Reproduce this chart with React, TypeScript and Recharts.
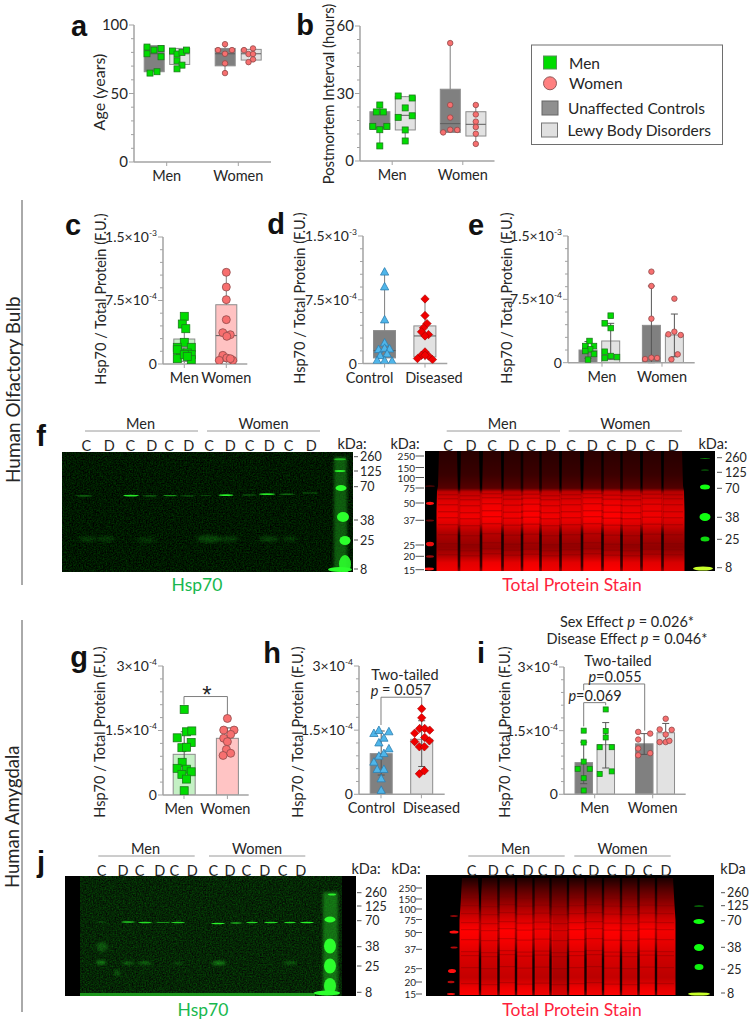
import React from 'react';
import { ComposedChart, Bar, Scatter, XAxis, YAxis, ReferenceLine } from 'recharts';

const FONT = 'Lato, "Open Sans", sans-serif';
const INK = '#262626';
const AXIS = '#a3a3a3';
const GREEN = '#00dc00';
const PINK = '#f76f6f';
const SKY = '#4fb6ea';
const RED = '#f00000';
const DARK = '#808080';
const LIGHT = '#e2e2e2';

// ---- panel a: age (years)
const aTicks = [0, 10, 20, 30, 40, 50, 60, 70, 80, 90, 100];
const aMenCtrl = [83.9, 81.7, 82.9, 79, 76.8, 64.9, 65.9];
const aMenCtrlX = [-7, 0, 7, -7, 7, -4, 3];
const aMenLbd = [81, 78.8, 80, 81.7, 73.9, 70.7, 68];
const aMenLbdX = [-7, -2.5, 2.5, 7, -2.5, 2.5, -2.5];
const aWomenCtrl = [86, 81.7, 79, 81.7, 72, 64.9];
const aWomenCtrlX = [0, -7, 0, 7, 0, 0];
const aWomenLbd = [81.7, 82.9, 78.8, 78.8, 74.9, 72.9];
const aWomenLbdX = [-7, 2, -2.5, 2, 2, -2.5];

// ---- panel b: postmortem interval (hours)
const bTicks = [0, 6, 12, 18, 24, 30, 36, 42, 48, 54, 60];
const bMenCtrl = [24.9, 21.8, 21.8, 15.4, 15.4, 13.9, 6.7];
const bMenCtrlX = [0, -3.5, 3.5, -7, 7, 0, 0];
const bMenLbd = [28.9, 28, 23.6, 19.4, 20.1, 13.8, 8.9];
const bMenLbdX = [-7, 7, 0, -7, 7, 0, 0];
const bWomenCtrl = [52.4, 24.9, 19.3, 12.7, 13.9, 13.8];
const bWomenCtrlX = [0, 0, 0, -7, 0, 7];
const bWomenLbd = [24.9, 20.7, 17.5, 15.1, 12.1, 7.6];
const bWomenLbdX = [0, 0, 0, 0, 0, 0];

// ---- panels c, d, e: olfactory bulb, values in units of 1e-4 F.U.
const bulbTicks = [0, 1.5, 3, 4.5, 6, 7.5, 9, 10.5, 12, 13.5, 15];
const cMen = [5.63, 4.72, 4.17, 2.56, 1.97, 1.97, 1.3, 1.3, 1.69, 1.1, 0.63, 0.51, 1.1, 0.9];
const cMenX = [0, -2, 1.5, 0, -7, 7, -4, 3, -7, 7, -7, 7, 0, 3];
const cWomen = [10.83, 9.09, 7.6, 5.24, 3.7, 3.46, 3.27, 1.02, 0.43, 0.71, 0.43, 0.63];
const cWomenX = [0, 0, 0, 0, -3.5, 4, 0.5, -3.5, -7, 0.5, 6.5, 4];
const dControl = [10.8, 9.06, 5.18, 2.47, 1.69, 1.84, 1.76, 0.98, 1.18, 0.39, 0.39, 0.31];
const dControlX = [0, 0, 0, 0, -6, 0, 5, -4.5, 2.5, -7.5, 0, 7.5];
const dDiseased = [7.6, 5.65, 4.7, 4.2, 3.73, 3.41, 3.25, 1.37, 0.98, 0.59, 0.9, 0.47, 0.98];
const dDiseasedX = [0, 0, 2, -1.5, -3.5, 3.5, 0, 0, -3.5, -7.5, 3.5, 7.5, 0];
const eMenCtrl = [2.57, 1.97, 1.97, 1.58, 1.38, 1.03, 0.36];
const eMenCtrlX = [1.5, -2.7, 6, 2.2, -2.7, 6, 0];
const eMenLbd = [5.57, 4.66, 4.1, 1.3, 0.79, 0.55, 0.67];
const eMenLbdX = [0, -6, 0, -6, 0, -6, 6.3];
const eWomenCtrl = [10.78, 9.08, 5.21, 0.43, 0.59, 0.55];
const eWomenCtrlX = [0, 0, 0, -6.3, 0, 5.7];
const eWomenLbd = [7.58, 3.36, 3.67, 3.28, 0.99, 0.39];
const eWomenLbdX = [0, -6, 0, 6.3, 3.3, -3];

// ---- panels g, h, i: amygdala, values in units of 1e-4 F.U.
const amyTicks = [0, 0.3, 0.6, 0.9, 1.2, 1.5, 1.8, 2.1, 2.4, 2.7, 3];
const gMen = [1.99, 1.47, 1.49, 1.33, 1.22, 1.1, 1.11, 0.76, 0.62, 0.6, 0.54, 0.48, 0.37, 0.1];
const gMenX = [0, 2.3, 7.6, -7, 7, -2.3, 2.3, -2, -7, 2.3, 7, -2.3, 2.3, 0];
const gWomen = [1.78, 1.51, 1.51, 1.41, 1.32, 1.24, 1.06, 0.97, 0.92];
const gWomenX = [0, -3.7, 6.7, 3.3, -3.7, 0, -1, 3.3, -4.3];
const hControl = [0.1, 0.37, 0.59, 0.59, 0.76, 0.9, 0.96, 1.07, 1.21, 1.32, 1.43, 1.5, 1.47];
const hControlX = [0, 0, -4, 2.7, -7.3, -2.3, 2.7, 7.7, -2.3, 2.7, -7.3, -2.3, 7.7];
const hDiseased = [2, 1.79, 1.43, 1.54, 1.54, 1.5, 1.33, 1.23, 1.25, 1.11, 1.11, 0.48, 0.55];
const hDiseasedX = [0, 0, -7, -2, 3, 8, 3, -7, 7.7, -2.3, 2.7, -2.3, 2.7];
const iMenCtrl = [1.5, 1.22, 0.77, 0.6, 0.6, 0.38, 0.09];
const iMenCtrlX = [0, 0, 0, -6, 6, 0, 0];
const iMenLbd = [2, 1.49, 1.34, 1.11, 1.11, 0.54, 0.48];
const iMenLbdX = [0, 0, 0, -6, 6, 6, -6];
const iWomenCtrl = [1.47, 1.43, 1.29, 1.08, 0.92, 0.97];
const iWomenCtrlX = [-6, 6, -6, -6, -6, 6];
const iWomenLbd = [1.78, 1.53, 1.52, 1.41, 1.23, 1.23, 1.26];
const iWomenLbdX = [0, -6, 6, 0, -6, 0, 3.7];

const sexes = ['Men', 'Women'];
const diagnoses = ['Control', 'Diseased'];

// ---- blot labels
const laneLetters = ['C', 'D', 'C', 'D', 'C', 'D', 'C', 'D', 'C', 'D', 'C', 'D'];
const ladderGreen = ['260', '125', '70', '38', '25', '8'];
const ladderRed = ['250', '150', '100', '75', '50', '37', '25', '20', '15'];

type Group = {
  x: number; width: number; fill: string; stroke?: string;
  range: [number, number]; median?: number;
  whisker?: [number, number]; errorBar?: [number, number];
  values: number[]; jitter: number[];
  mark: 'square' | 'circle' | 'triangle' | 'diamond'; markSize: number; markFill: string; markStroke: string;
};

const Mark = ({ cx, cy, kind, size, fill, stroke }: any) => {
  const s = size / 2;
  if (kind === 'circle') return <circle cx={cx} cy={cy} r={s} fill={fill} stroke={stroke} strokeWidth={0.8} />;
  if (kind === 'square') return <rect x={cx - s} y={cy - s} width={size} height={size} fill={fill} stroke={stroke} strokeWidth={0.8} />;
  if (kind === 'triangle') return <path d={`M${cx} ${cy - s * 1.1}L${cx + s * 1.1} ${cy + s * 0.9}L${cx - s * 1.1} ${cy + s * 0.9}Z`} fill={fill} stroke={stroke} strokeWidth={0.8} />;
  return <path d={`M${cx} ${cy - s * 1.2}L${cx + s * 1.2} ${cy}L${cx} ${cy + s * 1.2}L${cx - s * 1.2} ${cy}Z`} fill={fill} stroke={stroke} strokeWidth={0.6} />;
};

const YTick = ({ x, y, payload, labels, size }: any) => {
  const lab = labels[payload.value];
  return (
    <g>
      <line x1={x - (lab ? 5 : 3)} x2={x} y1={y} y2={y} stroke={AXIS} strokeWidth={1} />
      {lab && (
        <text x={x - 6} y={y} dy={5} textAnchor="end" fontSize={size} fontFamily={FONT} fill={INK}>
          {lab[0]}
          {lab[1] && <tspan dy={-6} fontSize={8.5}>{lab[1]}</tspan>}
        </text>
      )}
    </g>
  );
};

const XTick = ({ x, y, payload, index, names, nudges }: any) => (
  <g>
    <line x1={x} x2={x} y1={y} y2={y + 4} stroke={AXIS} strokeWidth={1} />
    <text x={payload.coordinate + (nudges?.[index] ?? 0)} y={y + 19} textAnchor="middle" fontSize={14.5} fontFamily={FONT} fill={INK}>
      {names[index]}
    </text>
  </g>
);

// the axis is numeric so recharts squeezes the band; draw the box at the group's own width
const GroupBar = (p: any) => {
  const g = p.payload.group as Group;
  const cx = p.x + p.width / 2;
  return <rect x={cx - g.width / 2} y={p.y} width={g.width} height={Math.abs(p.height)} fill={g.fill} stroke="#8c8c8c" strokeWidth={1} />;
};

const TOP_PAD = 14;

const Panel = ({ axisX, rightX, topY, zeroY, yMax, ticks, labels, tickX, names, nudges, groups, brackets, tickFont = 14 }: any) => {
  const left = axisX - 60;
  const top = topY - TOP_PAD;
  const rows = groups.map((g: Group) => ({ x: g.x, range: g.range, group: g }));
  const seg = (x1: number, y1: number, x2: number, y2: number, key: string, color = '#7d7d7d') => (
    <ReferenceLine key={key} segment={[{ x: x1, y: y1 }, { x: x2, y: y2 }]} stroke={color} strokeWidth={1} ifOverflow="visible" />
  );
  return (
    <div style={{ position: 'absolute', left, top }}>
      <ComposedChart
        width={rightX - axisX + 60 + 30}
        height={zeroY - topY + TOP_PAD + 30}
        data={rows}
        margin={{ top: TOP_PAD, right: 30, bottom: 0, left: 0 }}
      >
        <XAxis
          type="number" dataKey="x" domain={[axisX, rightX]} ticks={tickX} interval={0} allowDataOverflow
          height={30} tickSize={0} tickMargin={0} tickLine={false}
          axisLine={{ stroke: AXIS, strokeWidth: 1.5 }}
          tick={(p: any) => <XTick {...p} names={names} nudges={nudges} />}
        />
        <YAxis
          type="number" domain={[0, yMax]} ticks={ticks} interval={0} allowDataOverflow
          width={60} tickSize={0} tickMargin={0} tickLine={false}
          axisLine={{ stroke: AXIS, strokeWidth: 1.5 }}
          tick={(p: any) => <YTick {...p} labels={labels} size={tickFont} />}
        />
        <Bar dataKey="range" isAnimationActive={false} shape={GroupBar} />
        {groups.flatMap((g: Group, i: number) => {
          const out: any[] = [];
          const half = g.width / 2;
          if (g.whisker) {
            out.push(seg(g.x, g.range[1], g.x, g.whisker[1], `wt${i}`));
            out.push(seg(g.x, g.whisker[0], g.x, g.range[0], `wb${i}`));
          }
          if (g.median !== undefined) out.push(seg(g.x - half, g.median, g.x + half, g.median, `m${i}`, '#5c5c5c'));
          if (g.errorBar) {
            const [lo, hi] = g.errorBar;
            out.push(seg(g.x, lo, g.x, hi, `e${i}`, '#555'));
            out.push(seg(g.x - 3.5, hi, g.x + 3.5, hi, `eh${i}`, '#555'));
            out.push(seg(g.x - 3.5, lo, g.x + 3.5, lo, `el${i}`, '#555'));
          }
          return out;
        })}
        {(brackets ?? []).flatMap((b: any, i: number) => [
          seg(b.x1, b.y1, b.x1, b.top, `bl${i}`),
          seg(b.x1, b.top, b.x2, b.top, `bt${i}`),
          seg(b.x2, b.top, b.x2, b.y2, `br${i}`),
        ])}
        {groups.map((g: Group, i: number) => (
          <Scatter
            key={i}
            dataKey="v"
            data={g.values.map((v, j) => ({ x: g.x + g.jitter[j], v }))}
            isAnimationActive={false}
            shape={(p: any) => <Mark cx={p.cx} cy={p.cy} kind={g.mark} size={g.markSize} fill={g.markFill} stroke={g.markStroke} />}
          />
        ))}
      </ComposedChart>
    </div>
  );
};

const men = (size: number) => ({ mark: 'square' as const, markSize: size, markFill: GREEN, markStroke: '#1c7a1c' });
const women = (size: number) => ({ mark: 'circle' as const, markSize: size, markFill: PINK, markStroke: '#8f4a4a' });
const control = { mark: 'triangle' as const, markSize: 7.5, markFill: SKY, markStroke: '#2f7fb0' };
const diseased = { mark: 'diamond' as const, markSize: 7, markFill: RED, markStroke: '#a00000' };

const ageLabels = { 0: ['0'], 50: ['50'], 100: ['100'] };
const pmiLabels = { 0: ['0'], 30: ['30'], 60: ['60'] };
const bulbLabels = { 0: ['0'], 7.5: ['7.5×10', '-4'], 15: ['1.5×10', '-3'] };
const amyLabels = { 0: ['0'], 1.5: ['1.5×10', '-4'], 3: ['3×10', '-4'] };

// ---- annotation text
const T = ({ x, y, s = 14.5, a = 'middle', c = INK, r, w, f, children }: any) => (
  <text
    x={x} y={y} fontSize={s} textAnchor={a} fill={c} fontWeight={w} dominantBaseline="central"
    fontFamily={f ?? FONT} transform={r ? `rotate(${r} ${x} ${y})` : undefined}
  >
    {children}
  </text>
);
const P = () => <tspan fontStyle="italic">p</tspan>;
const PanelLetter = ({ x, y, children }: any) => (
  <T x={x} y={y} s={29} w="bold" f='"Liberation Sans", Arial, sans-serif' c="#111">{children}</T>
);

const BlotHead = ({ menX, womenX, y, xs }: any) => (
  <g>
    <T x={(menX[0] + menX[1]) / 2 - 1} y={y}>Men</T>
    <T x={(womenX[0] + womenX[1]) / 2} y={y + 0.5}>Women</T>
    <line x1={menX[0]} x2={menX[1]} y1={y + 8} y2={y + 8} stroke="#9a9a9a" />
    <line x1={womenX[0]} x2={womenX[1]} y1={y + 8} y2={y + 8} stroke="#9a9a9a" />
    {laneLetters.map((l, i) => <T key={i} x={xs[i]} y={y + 22} s={14.5}>{l}</T>)}
  </g>
);

const Ladder = ({ names, ys, tick, textX, a, s = 12.5 }: any) => (
  <g>
    {names.map((n: string, i: number) => (
      <g key={n}>
        <line x1={tick[0]} x2={tick[1]} y1={ys[i]} y2={ys[i]} stroke="#555" />
        <T x={textX} y={ys[i]} s={s} a={a}>{n}</T>
      </g>
    ))}
  </g>
);

// ---- blot drawings, coordinates relative to each blot
const Blot = ({ x, y, w, h, id, tint, children }: any) => (
  <svg width={w} height={h} style={{ position: 'absolute', left: x, top: y, display: 'block' }}>
    <defs>
      <filter id={`${id}b1`} colorInterpolationFilters="sRGB"><feGaussianBlur stdDeviation="0.7" /></filter>
      <filter id={`${id}b2`} colorInterpolationFilters="sRGB"><feGaussianBlur stdDeviation="1.8" /></filter>
      <filter id={`${id}n`} x="0" y="0" width="100%" height="100%" colorInterpolationFilters="sRGB">
        <feTurbulence type="fractalNoise" baseFrequency="0.7" numOctaves="2" seed="4" />
        <feColorMatrix type="matrix" values={tint} />
      </filter>
    </defs>
    <rect width={w} height={h} fill="#000" />
    {children}
  </svg>
);

const GREEN_NOISE = '0 0 0 0 0  0.35 0 0 0 -0.08  0 0 0 0 0  0 0 0 0 1';
const GREEN_NOISE_J = '0 0 0 0 0.02  0.4 0 0 0 -0.05  0 0 0 0 0.02  0 0 0 0 1';

const Spots = ({ list, filter, color = '#2cff2c' }: any) => (
  <g filter={filter}>
    {list.map((b: number[], i: number) => (
      <ellipse key={i} cx={b[0]} cy={b[1]} rx={b[2]} ry={b[3]} fill={b[5] ? '#c8ff2a' : color} opacity={b[4]} />
    ))}
  </g>
);

const fHspBands = [
  [22, 43.8, 9, 0.6, 0.4], [69, 43.6, 8, 0.9, 0.9], [88, 43.8, 8, 0.6, 0.4], [108, 43.6, 7, 0.7, 0.55],
  [126, 43.8, 8, 0.6, 0.3], [144, 43.6, 6, 0.5, 0.22], [164, 43.2, 7.5, 0.9, 0.95], [187, 43, 7, 0.6, 0.35],
  [205, 42.2, 8, 0.9, 0.9], [225, 42.2, 8, 0.6, 0.45], [248, 41, 8, 0.6, 0.3],
];
const fHspFaint = [
  [26, 87, 9, 3, 0.12], [44, 87, 9, 3, 0.12], [85, 88, 10, 3, 0.1], [147, 87, 12, 4, 0.18],
  [167, 87, 10, 3, 0.13], [207, 87, 10, 3, 0.15], [228, 87, 8, 3, 0.1],
];
const fHspLadder = [
  [278, 7.3, 6, 1, 0.6], [278, 19, 5.5, 1, 0.9], [279, 36, 5.5, 3, 1], [281, 65, 6, 5, 1],
  [283, 88.5, 5.5, 4.5, 1], [283, 112, 6, 9, 0.9], [278, 117.5, 12, 2.5, 1],
];
const jHspBands = [
  [36, 46, 6, 0.5, 0.3], [63, 46, 7, 0.7, 0.8], [80, 46.5, 7, 0.7, 0.85], [98, 46.5, 7, 0.6, 0.5],
  [113, 46.5, 7, 0.7, 0.8], [153, 47.5, 7, 0.7, 0.95], [171, 47, 6, 0.7, 0.65], [187, 46.5, 6, 0.7, 0.85],
  [206, 46.5, 7, 0.7, 0.85], [225, 46.5, 6, 0.7, 0.85], [242, 46.5, 7, 0.7, 0.95],
];
const jHspFaint = [
  [36, 86.5, 5, 2, 0.4], [63, 87, 6, 1.2, 0.4], [80, 87, 7, 1.2, 0.4], [113, 87, 6, 1.2, 0.22],
  [154, 87, 7, 2, 0.4], [225, 87, 7, 1.5, 0.28], [37, 71, 6, 5, 0.2], [52, 97, 3, 3, 0.22],
];
const jHspLadder = [
  [267, 18.5, 4, 1, 0.9], [265, 43.5, 5.5, 3, 1], [265, 70, 6, 7.5, 1], [265, 90, 6, 7.5, 1],
  [265, 110, 6, 8, 0.95], [262, 117, 13, 2.5, 1],
];

const Lane = ({ cx, profile, fill, opacity }: any) => {
  const right = profile.map((p: number[]) => `${cx + p[1]},${p[0]}`);
  const leftSide = [...profile].reverse().map((p: number[]) => `${cx - p[1]},${p[0]}`);
  return <polygon points={[...right, ...leftSide].join(' ')} fill={fill} opacity={opacity} />;
};

const Gaps = ({ lanes, fill, w }: any) => (
  <g>
    {lanes.slice(1).map((x: number, i: number) => (
      <rect key={i} x={(x + lanes[i]) / 2 - w / 2} y={0} width={w} height={121} fill={fill} />
    ))}
  </g>
);

const fLaneX = [23, 45, 67, 88, 106, 125, 146, 168, 187, 206, 227, 248];
const fLaneLevel = [0.95, 0.95, 1, 0.95, 1, 0.95, 0.95, 1, 1, 0.95, 0.95, 0.9];
const fProfile = [[0, 9], [35, 10], [40, 11], [60, 11.5], [120, 11.5]];
const fStripes = [43, 47, 53, 60, 66, 73, 83, 92, 98, 103];
const fRedLadder = [[5, 35, 5, 0.5, 0.5], [5, 52.3, 4, 1.6, 1], [5, 69.5, 4, 1, 0.4], [5, 93, 4, 2.3, 0.9], [5, 105.5, 4, 1.2, 0.6], [4, 118, 5, 1.4, 1]];
const fRedGreen = [[280, 7.5, 5, 0.4, 0.5], [280, 19, 4, 0.5, 0.5], [280, 36, 5, 2.5, 1], [280, 66, 5.5, 4, 1], [280, 88, 4.5, 2.5, 0.85], [278, 117.5, 10, 2, 1, 1]];

const jLaneX = [44, 64, 81, 99, 116, 133, 151, 168, 186, 204, 221, 239];
const jLaneLevel = [1, 0.95, 1, 1, 0.95, 0.85, 1, 0.95, 1, 0.95, 1, 0.95];
const jProfile = [[3, 8], [30, 9.5], [45, 10.5], [120, 10.5]];
const jStripes = [22, 30, 38, 47, 54, 64, 76, 80, 92, 108];
const jRedLadder = [[28, 41, 4, 0.7, 0.7], [28, 57, 4.5, 1.5, 1], [28, 72.5, 3.5, 1, 0.7], [26, 96, 4, 2, 1], [25, 107, 3.5, 1.2, 0.7], [25, 119, 4, 1, 1]];
const jRedGreen = [[273, 31, 5, 0.5, 0.7], [273, 46.5, 5.5, 2.5, 1], [273, 72.5, 5, 3.5, 1], [273, 92, 4.5, 3, 0.95], [273, 119, 11, 1.6, 1, 1]];

// small per-lane shift so the protein bands do not line up into ruled stripes
const laneShift = [0, 1, -1, 0.5, -0.5, 1, 0, -1, 0.5, 1, -0.5, 0];

const RedStops = ({ id, stops }: any) => (
  <linearGradient id={id} x1="0" y1="0" x2="0" y2="1">
    {stops.map((s: any, i: number) => <stop key={i} offset={s[0]} stopColor={s[1]} />)}
  </linearGradient>
);
const GapStops = ({ id, stops }: any) => (
  <linearGradient id={id} x1="0" y1="0" x2="0" y2="1">
    {stops.map((s: any, i: number) => <stop key={i} offset={s[0]} stopColor="#000" stopOpacity={s[1]} />)}
  </linearGradient>
);

const fStops = [[0, '#2a0000'], [0.2, '#3c0000'], [0.31, '#5a0000'], [0.34, '#c80000'], [0.43, '#ee0000'], [0.55, '#ff0000'], [0.62, '#e40000'], [0.68, '#bb0000'], [0.8, '#990000'], [0.88, '#c00000'], [0.93, '#ee0000'], [1, '#ff0000']];
const fGapStops = [[0, 0.8], [0.3, 0.7], [0.36, 0.1], [0.6, 0.2], [0.7, 0.85], [0.95, 0.75], [1, 0.4]];
const jStops = [[0, '#1c0000'], [0.1, '#5a0000'], [0.25, '#aa0000'], [0.36, '#dd0000'], [0.45, '#ff0000'], [0.55, '#f20000'], [0.65, '#dc0000'], [0.85, '#c40000'], [0.94, '#ee0000'], [1, '#ff0000']];
const jGapStops = [[0, 0.85], [0.25, 0.6], [0.4, 0.25], [0.55, 0.45], [0.7, 0.9], [0.95, 0.85], [1, 0.5]];

const App = () => (
  <div style={{ position: 'absolute', left: 0, top: 0, width: 749, height: 1021, overflow: 'hidden', background: '#fff' }}>
    {/* blots */}
    <Blot x={62} y={452} w={291} h={120} id="f1" tint={GREEN_NOISE}>
      <rect width={291} height={120} filter="url(#f1n)" />
      <rect x={272} y={5} width={13} height={112} fill="#1d9e1d" opacity={0.5} filter="url(#f1b2)" />
      <Spots list={fHspFaint} filter="url(#f1b2)" />
      <Spots list={fHspBands} filter="url(#f1b1)" />
      <Spots list={fHspLadder} filter="url(#f1b1)" />
    </Blot>
    <Blot x={425} y={451} w={290} h={120} id="f2" tint={GREEN_NOISE}>
      <defs><RedStops id="f2g" stops={fStops} /><GapStops id="f2d" stops={fGapStops} /></defs>
      <g filter="url(#f2b1)">
        {fLaneX.map((x, i) => <Lane key={i} cx={x} profile={fProfile} fill="url(#f2g)" opacity={fLaneLevel[i]} />)}
        {fLaneX.map((x, i) => fStripes.map((y) => <rect key={`${i}-${y}`} x={x - 10} y={y + laneShift[i]} width={20} height={1.4} fill="#7a0000" opacity={0.35} />))}
        <Gaps lanes={fLaneX} fill="url(#f2d)" w={2.6} />
      </g>
      <Spots list={fRedLadder} filter="url(#f2b1)" color="#ff1010" />
      <Spots list={fRedGreen} filter="url(#f2b1)" color="#10ff10" />
    </Blot>
    <Blot x={65} y={876} w={291} h={120} id="j1" tint={GREEN_NOISE_J}>
      <rect x={15} width={262} height={120} filter="url(#j1n)" />
      <rect x={258} y={16} width={15} height={103} fill="#22b022" opacity={0.55} filter="url(#j1b2)" />
      <rect x={15} y={117} width={235} height={3} fill="#1fa81f" opacity={0.85} filter="url(#j1b1)" />
      <Spots list={jHspFaint} filter="url(#j1b2)" />
      <Spots list={jHspBands} filter="url(#j1b1)" />
      <Spots list={jHspLadder} filter="url(#j1b1)" />
    </Blot>
    <Blot x={426} y={875} w={288} h={121} id="j2" tint={GREEN_NOISE}>
      <defs><RedStops id="j2g" stops={jStops} /><GapStops id="j2d" stops={jGapStops} /></defs>
      <g filter="url(#j2b1)">
        {jLaneX.map((x, i) => <Lane key={i} cx={x} profile={jProfile} fill="url(#j2g)" opacity={jLaneLevel[i]} />)}
        {jLaneX.map((x, i) => jStripes.map((y) => <rect key={`${i}-${y}`} x={x - 9} y={y + laneShift[i]} width={18} height={1.2} fill="#700000" opacity={0.3} />))}
        <Gaps lanes={jLaneX} fill="url(#j2d)" w={2.4} />
      </g>
      <Spots list={jRedLadder} filter="url(#j2b1)" color="#ff1010" />
      <Spots list={jRedGreen} filter="url(#j2b1)" color="#10ff10" />
    </Blot>

    {/* chart panels */}
    <Panel
      axisX={134} rightX={271} topY={25} zeroY={162} yMax={100} ticks={aTicks} labels={ageLabels} tickX={[166.7, 238.3]} names={sexes} tickFont={15}
      groups={[
        { x: 154, width: 20, fill: DARK, range: [65.9, 84.9], median: 79, values: aMenCtrl, jitter: aMenCtrlX, ...men(6) },
        { x: 179.5, width: 20, fill: LIGHT, range: [71.2, 82.9], median: 79, whisker: [68, 82.9], values: aMenLbd, jitter: aMenLbdX, ...men(6) },
        { x: 225, width: 20, fill: DARK, range: [70.2, 82.9], median: 79, whisker: [64.9, 86], values: aWomenCtrl, jitter: aWomenCtrlX, ...women(5.5) },
        { x: 251, width: 20, fill: LIGHT, range: [74.4, 82.2], median: 79, whisker: [72.9, 82.9], values: aWomenLbd, jitter: aWomenLbdX, ...women(5.5) },
      ]}
    />
    <Panel
      axisX={359.5} rightX={494} topY={26} zeroY={161} yMax={60} ticks={bTicks} labels={pmiLabels} tickX={[391.7, 462.3]} names={sexes} tickFont={15}
      groups={[
        { x: 379.3, width: 20, fill: DARK, range: [14.1, 21.9], median: 15, whisker: [6.7, 24.9], values: bMenCtrl, jitter: bMenCtrlX, ...men(6) },
        { x: 404.7, width: 20, fill: LIGHT, range: [13.8, 28.6], median: 20.3, whisker: [8.9, 28.9], values: bMenLbd, jitter: bMenLbdX, ...men(6) },
        { x: 449.7, width: 20, fill: DARK, range: [12.7, 31.9], median: 16.6, whisker: [12.7, 52.4], values: bWomenCtrl, jitter: bWomenCtrlX, ...women(5.5) },
        { x: 475.3, width: 20, fill: LIGHT, range: [11.1, 21.9], median: 16.3, whisker: [7.6, 24.9], values: bWomenLbd, jitter: bWomenLbdX, ...women(5.5) },
      ]}
    />
    <Panel
      axisX={162.7} rightX={247} topY={237.3} zeroY={364.3} yMax={15} ticks={bulbTicks} labels={bulbLabels} tickX={[184, 226]} names={sexes}
      groups={[
        { x: 184, width: 21, fill: '#c4efc4', range: [0.3, 2.95], median: 1.9, whisker: [0.1, 5.63], values: cMen, jitter: cMenX, ...men(8) },
        { x: 226, width: 21, fill: '#ffc2c2', range: [0.3, 7], median: 3.35, whisker: [0.1, 10.83], values: cWomen, jitter: cWomenX, ...women(8) },
      ]}
    />
    <Panel
      axisX={362.7} rightX={447} topY={235.7} zeroY={363.3} yMax={15} ticks={bulbTicks} labels={bulbLabels} tickX={[384.3, 424.7]} names={diagnoses} nudges={[-15, 9]}
      groups={[
        { x: 384.3, width: 22, fill: DARK, range: [0.67, 3.88], median: 1.53, whisker: [0.1, 10.8], values: dControl, jitter: dControlX, ...control },
        { x: 424.7, width: 22, fill: LIGHT, range: [0.78, 4.43], median: 3.25, whisker: [0.4, 7.6], values: dDiseased, jitter: dDiseasedX, ...diseased },
      ]}
    />
    <Panel
      axisX={568.3} rightX={695} topY={236} zeroY={362.7} yMax={15} ticks={bulbTicks} labels={bulbLabels} tickX={[602.3, 662.3]} names={sexes}
      groups={[
        { x: 588.3, width: 18, fill: DARK, range: [0, 1.5], errorBar: [0.5, 2.5], values: eMenCtrl, jitter: eMenCtrlX, ...men(5.5) },
        { x: 611, width: 18, fill: LIGHT, range: [0, 2.57], errorBar: [0.4, 4.66], values: eMenLbd, jitter: eMenLbdX, ...men(5.5) },
        { x: 651.7, width: 18, fill: DARK, range: [0, 4.42], errorBar: [0, 9.08], values: eWomenCtrl, jitter: eWomenCtrlX, ...women(5.5) },
        { x: 674.7, width: 18, fill: LIGHT, range: [0, 3.28], errorBar: [0.7, 5.76], values: eWomenLbd, jitter: eWomenLbdX, ...women(5.5) },
      ]}
    />
    <Panel
      axisX={163.3} rightX={249} topY={666} zeroY={795} yMax={3} ticks={amyTicks} labels={amyLabels} tickX={[184.3, 227.7]} names={sexes} nudges={[-5, -2]}
      brackets={[{ x1: 184.3, x2: 227.7, top: 2.29, y1: 2.1, y2: 1.86 }]}
      groups={[
        { x: 184.5, width: 22, fill: '#c4f0c4', range: [0, 0.946], errorBar: [0.43, 1.47], values: gMen, jitter: gMenX, ...men(8) },
        { x: 227.7, width: 22, fill: '#ffc4c4', range: [0, 1.318], errorBar: [1.05, 1.56], values: gWomen, jitter: gWomenX, ...women(8) },
      ]}
    />
    <Panel
      axisX={359.3} rightX={445} topY={666} zeroY={794.3} yMax={3} ticks={amyTicks} labels={amyLabels} tickX={[381.3, 421.7]} names={diagnoses} nudges={[-9.5, 10]}
      brackets={[{ x1: 381.3, x2: 422, top: 2.27, y1: 1.62, y2: 2.09 }]}
      groups={[
        { x: 381.5, width: 22, fill: DARK, range: [0, 0.95], errorBar: [0.45, 1.48], values: hControl, jitter: hControlX, ...control },
        { x: 422, width: 22, fill: LIGHT, range: [0, 1.286], errorBar: [0.65, 1.72], values: hDiseased, jitter: hDiseasedX, ...diseased },
      ]}
    />
    <Panel
      axisX={564.3} rightX={686} topY={666.7} zeroY={794} yMax={3} ticks={amyTicks} labels={amyLabels} tickX={[595, 653]} names={sexes}
      brackets={[
        { x1: 584, x2: 606, top: 2.16, y1: 1.6, y2: 2.1 },
        { x1: 584, x2: 645, top: 2.6, y1: 2.45, y2: 1.5 },
      ]}
      groups={[
        { x: 584, width: 17.5, fill: DARK, range: [0, 0.746], errorBar: [0.25, 1.23], values: iMenCtrl, jitter: iMenCtrlX, ...men(5) },
        { x: 606, width: 17.5, fill: LIGHT, range: [0, 1.17], errorBar: [0.62, 1.69], values: iMenLbd, jitter: iMenLbdX, ...men(5) },
        { x: 644.5, width: 17.5, fill: DARK, range: [0, 1.19], errorBar: [0.94, 1.43], values: iWomenCtrl, jitter: iWomenCtrlX, ...women(5.5) },
        { x: 666, width: 17.5, fill: LIGHT, range: [0, 1.45], errorBar: [1.23, 1.67], values: iWomenLbd, jitter: iWomenLbdX, ...women(5.5) },
      ]}
    />

    {/* text, rules and legend */}
    <svg width={749} height={1021} style={{ position: 'absolute', left: 0, top: 0, pointerEvents: 'none' }}>
      <PanelLetter x={79} y={26}>a</PanelLetter>
      <PanelLetter x={305} y={25}>b</PanelLetter>
      <PanelLetter x={73} y={225}>c</PanelLetter>
      <PanelLetter x={276} y={224}>d</PanelLetter>
      <PanelLetter x={476} y={225}>e</PanelLetter>
      <PanelLetter x={41} y={436}>f</PanelLetter>
      <PanelLetter x={79} y={657}>g</PanelLetter>
      <PanelLetter x={272} y={653}>h</PanelLetter>
      <PanelLetter x={481} y={653}>i</PanelLetter>
      <PanelLetter x={41} y={862}>j</PanelLetter>

      <T x={98} y={92} r={-90} s={16}>Age (years)</T>
      <T x={328} y={94} r={-90} s={14.8}>Postmortem Interval (hours)</T>
      <T x={100} y={299} r={-90}>Hsp70 / Total Protein (F.U.)</T>
      <T x={299} y={298} r={-90}>Hsp70 / Total Protein (F.U.)</T>
      <T x={506} y={298} r={-90}>Hsp70 / Total Protein (F.U.)</T>
      <T x={99} y={732} r={-90}>Hsp70 / Total Protein (F.U.)</T>
      <T x={297} y={732} r={-90}>Hsp70 / Total Protein (F.U.)</T>
      <T x={504} y={732} r={-90}>Hsp70 / Total Protein (F.U.)</T>

      <T x={12} y={483} r={-90} s={19} a="start">Human Olfactory Bulb</T>
      <T x={12} y={888} r={-90} s={18.5} a="start">Human Amygdala</T>
      <line x1={22} x2={22} y1={200} y2={585} stroke="#555" />
      <line x1={22} x2={22} y1={620} y2={1012} stroke="#555" />

      <T x={207} y={694} s={24} f='"Liberation Sans", Arial, sans-serif'>*</T>
      <T x={405} y={674}>Two-tailed</T>
      <T x={401} y={689.5}><P /> = 0.057</T>
      <T x={627} y={621}>Sex Effect <P /> = 0.026*</T>
      <T x={627} y={638}>Disease Effect <P /> = 0.046*</T>
      <T x={618} y={660.5}>Two-tailed</T>
      <T x={615} y={676}><P />=0.055</T>
      <T x={595} y={695}><P />=0.069</T>

      <BlotHead menX={[85, 198]} womenX={[207, 320]} y={423} xs={[86.3, 109.3, 130.3, 151.7, 169, 188.7, 209, 230.3, 249.7, 269.3, 288.7, 311.3]} />
      <T x={352} y={443}>kDa:</T>
      <Ladder names={ladderGreen} ys={[456.7, 471, 486.7, 520, 540, 569]} tick={[354, 358]} textX={360} a="start" />
      <T x={197} y={584} s={17.5} c="#18b84e">Hsp70</T>

      <BlotHead menX={[446.7, 560]} womenX={[568.7, 682]} y={423} xs={[448, 471, 492, 513.7, 531, 550.7, 571, 592.3, 611.3, 631, 650.3, 673.3]} />
      <T x={405} y={443}>kDa:</T>
      <T x={713} y={443}>kDa:</T>
      <Ladder names={ladderRed} ys={[456, 467.5, 477.5, 488, 503, 520.3, 545, 556.3, 569.7]} tick={[415.5, 424]} textX={415} a="end" s={10} />
      <Ladder names={ladderGreen} ys={[457.7, 472.3, 488.3, 517.3, 539.3, 567.7]} tick={[717, 722]} textX={725} a="start" />
      <T x={572} y={584} s={17.5} c="#ff1f3d">Total Protein Stain</T>

      <BlotHead menX={[98.3, 194.7]} womenX={[209, 305.3]} y={848} xs={[101.7, 123, 139.7, 159.7, 174.3, 192.3, 213.3, 230, 246.3, 264.7, 282.7, 300.7]} />
      <T x={366} y={868}>kDa:</T>
      <Ladder names={ladderGreen} ys={[892.7, 906, 920.7, 946.7, 966, 992.3]} tick={[357, 361.5]} textX={365} a="start" />
      <T x={203} y={1009} s={17.5} c="#18b84e">Hsp70</T>

      <BlotHead menX={[468.3, 564.7]} womenX={[574.3, 670.7]} y={848} xs={[471.7, 493.3, 509.7, 528, 542.7, 559.3, 577, 593.7, 611.7, 629.7, 647.7, 666]} />
      <T x={406} y={868}>kDa:</T>
      <T x={733} y={868}>kDa</T>
      <Ladder names={ladderRed} ys={[888, 899, 909, 919.5, 932.5, 949.3, 968.7, 982, 994]} tick={[416, 422]} textX={416} a="end" s={10} />
      <Ladder names={ladderGreen} ys={[892.7, 905.7, 920.7, 947.3, 969.3, 993]} tick={[721, 725]} textX={727} a="start" />
      <T x={572} y={1009} s={17.5} c="#ff1f3d">Total Protein Stain</T>

      <rect x={531.5} y={45} width={191} height={99.5} fill="#fff" stroke="#6e6e6e" />
      <rect x={543.5} y={56} width={13} height={13} fill={GREEN} stroke="#5b8f5b" />
      <circle cx={550} cy={83.3} r={6.5} fill="#ff8080" stroke="#8f5a5a" />
      <rect x={542} y={101} width={16} height={14} fill="#8f8f8f" stroke="#666" />
      <rect x={541.5} y={123} width={16} height={14} fill="#e0e0e0" stroke="#777" />
      <T x={569} y={62.5} s={15.5} a="start">Men</T>
      <T x={569} y={83} s={15.5} a="start">Women</T>
      <T x={568} y={108} s={15.5} a="start">Unaffected Controls</T>
      <T x={567.5} y={130} s={15.5} a="start">Lewy Body Disorders</T>
    </svg>
  </div>
);

export default App;
